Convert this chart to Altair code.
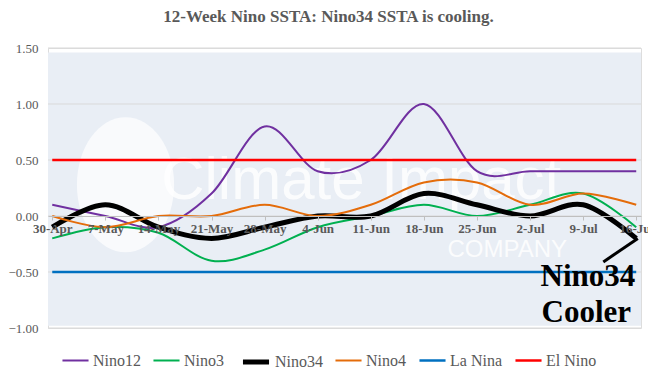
import altair as alt
import pandas as pd

weeks = ["30-Apr", "7-May", "14-May", "21-May", "28-May", "4-Jun",
         "11-Jun", "18-Jun", "25-Jun", "2-Jul", "9-Jul", "16-Jul"]
nino12 = [0.1, 0.0, -0.1, 0.2, 0.8, 0.4, 0.5, 1.0, 0.4, 0.4, 0.4, 0.4]
nino3 = [-0.2, -0.1, -0.15, -0.4, -0.3, -0.1, 0.0, 0.1, 0.0, 0.1, 0.2, -0.1]
nino34 = [-0.1, 0.1, -0.1, -0.2, -0.1, 0.0, 0.0, 0.2, 0.1, 0.0, 0.1, -0.2]
nino4 = [0.0, -0.1, 0.0, 0.0, 0.1, 0.0, 0.1, 0.3, 0.3, 0.1, 0.2, 0.1]
la_nina = [-0.5] * 12
el_nino = [0.5] * 12

series_names = ["Nino12", "Nino3", "Nino34", "Nino4", "La Nina", "El Nino"]
series_vals = [nino12, nino3, nino34, nino4, la_nina, el_nino]
series_colors = ["#7030A0", "#00B050", "#000000", "#E46C0A", "#0070C0", "#FF0000"]
series_widths = [2, 2, 5, 2, 2.5, 2.5]
y_ticks = [-1.0, -0.5, 0.0, 0.5, 1.0, 1.5]

rows = []
for name, vals in zip(series_names, series_vals):
    for i, v in enumerate(vals):
        rows.append({"idx": i, "series": name, "value": v})
df = pd.DataFrame(rows)

label_expr = "[" + ",".join("'%s'" % w for w in weeks) + "][round(datum.value)]"

FONT = "Liberation Serif"
SANS = "Liberation Sans"
GRAY = "#595959"
BG = "#E9EEF5"

x_scale = alt.Scale(domain=[-0.08, 11.09], nice=False)
y_scale = alt.Scale(domain=[-1.0, 1.5], nice=False)

legend = alt.Legend(
    title=None, orient="none", direction="horizontal", legendX=13, legendY=298,
    symbolType="stroke", symbolSize=680, labelFont=FONT, labelFontSize=16,
    labelColor=GRAY, columnPadding=8, labelOffset=3, gridAlign="none",
)

# background panel, grid and watermark
bg_df = pd.DataFrame({"x": [-0.08], "x2": [11.09], "y": [1.46], "y2": [-0.98]})
panel = alt.Chart(bg_df).mark_rect(color=BG).encode(
    x=alt.X("x:Q", scale=x_scale), x2="x2:Q",
    y=alt.Y("y:Q", scale=y_scale), y2="y2:Q")

grid_df = pd.DataFrame({"y": y_ticks})
grid = alt.Chart(grid_df).mark_rule(color="#D9D9D9", strokeWidth=1).encode(
    y=alt.Y("y:Q", scale=y_scale))

wm = pd.DataFrame({"x": [5.82], "y": [0.31], "t": ["Climate Impact"]})
wm2 = pd.DataFrame({"x": [8.57], "y": [-0.30], "t": ["COMPANY"]})
wm3 = pd.DataFrame({"x": [1.38], "y": [0.28]})

water = alt.Chart(wm).mark_text(
    font=SANS, fontSize=60, color="white", opacity=0.85, baseline="middle"
).encode(x=alt.X("x:Q", scale=x_scale), y=alt.Y("y:Q", scale=y_scale), text="t:N")
water2 = alt.Chart(wm2).mark_text(
    font=SANS, fontSize=24, color="white", opacity=0.85, baseline="middle"
).encode(x=alt.X("x:Q", scale=x_scale), y=alt.Y("y:Q", scale=y_scale), text="t:N")
logo = alt.Chart(wm3).mark_point(
    shape="M0,-1 A0.72,1 0 1,1 0,1 A0.72,1 0 1,1 0,-1 Z", size=18225,
    fill="white", fillOpacity=0.7, filled=True, strokeWidth=0
).encode(x=alt.X("x:Q", scale=x_scale), y=alt.Y("y:Q", scale=y_scale))

lines = alt.Chart(df).mark_line(interpolate="cardinal").encode(
    x=alt.X("idx:Q", scale=x_scale, title=None,
            axis=alt.Axis(values=list(range(12)), labelExpr=label_expr, offset=-112,
                          grid=False, domainColor="#BFBFBF", tickColor="#BFBFBF",
                          tickSize=4, labelPadding=2, labelFont=FONT, labelFontSize=13,
                          labelFontWeight="bold", labelColor=GRAY, labelFlush=False,
                          zindex=1)),
    y=alt.Y("value:Q", scale=y_scale, title=None,
            axis=alt.Axis(values=y_ticks, format=".2f", domain=False, ticks=False,
                          grid=False, labelFont=FONT, labelFontSize=13,
                          labelColor=GRAY, labelPadding=10)),
    color=alt.Color("series:N", scale=alt.Scale(domain=series_names, range=series_colors),
                    legend=legend),
    strokeWidth=alt.StrokeWidth("series:N",
                                scale=alt.Scale(type="ordinal", domain=series_names,
                                                range=series_widths),
                                legend=legend),
    order=alt.Order("idx:Q"),
)

arrow_df = pd.DataFrame({"x": [10.38], "y": [-0.41], "x2": [11.03], "y2": [-0.2]})
arrow = alt.Chart(arrow_df).mark_rule(color="black", strokeWidth=3).encode(
    x=alt.X("x:Q", scale=x_scale), y=alt.Y("y:Q", scale=y_scale), x2="x2:Q", y2="y2:Q")

ann_df = pd.DataFrame({"x": [10.09, 10.06], "y": [-0.545, -0.866], "t": ["Nino34", "Cooler"]})
ann = alt.Chart(ann_df).mark_text(
    font=FONT, fontSize=31, fontWeight="bold", color="black"
).encode(x=alt.X("x:Q", scale=x_scale), y=alt.Y("y:Q", scale=y_scale), text="t:N")

chart = alt.layer(panel, grid, water, water2, logo, lines, arrow, ann).properties(
    width=593, height=280,
    title=alt.Title("12-Week Nino SSTA: Nino34 SSTA is cooling.", font=FONT, fontSize=17,
                    fontWeight="bold", color=GRAY, anchor="middle", offset=16, dx=-16),
    autosize=alt.AutoSizeParams(type="none"),
    padding={"left": 40, "top": 40, "right": 7, "bottom": 41},
).configure_view(strokeWidth=0).configure(background="white", font=FONT).configure_legend(
    labelFont=FONT)

chart.save("out.html", embed_options={"renderer": "svg", "actions": False})
